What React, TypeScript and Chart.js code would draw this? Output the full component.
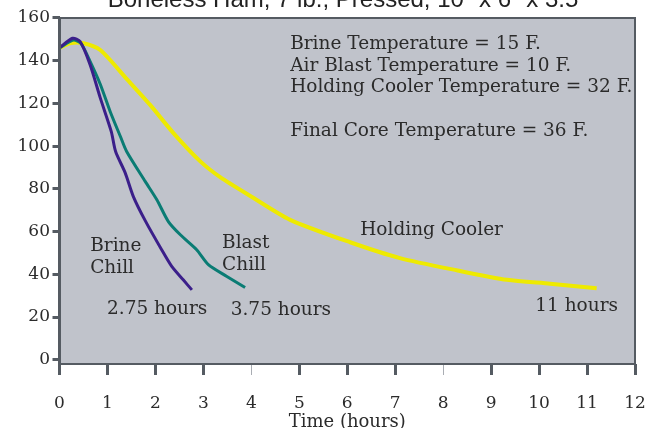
import React, { useEffect, useRef } from "react";
import { Chart, registerables } from "chart.js";

Chart.register(...registerables);

// ---------- data ----------
const TITLE = 'Boneless Ham, 7 lb., Pressed, 10" x 6" x 3.5"';
const X_TITLE = "Time (hours)";

const SERIES_NAMES = ["Brine Chill", "Blast Chill", "Holding Cooler"];

const brineTimes = [0, 0.27, 0.43, 0.64, 0.85, 1.08, 1.17, 1.37, 1.54, 1.79, 2.13, 2.34, 2.58, 2.76];
const brineTemps = [146, 150.5, 149, 138, 122.6, 106.8, 97.5, 87.5, 76.4, 65, 51.5, 43.7, 37.4, 32.7];

const blastTimes = [0, 0.29, 0.45, 0.64, 0.85, 1.06, 1.27, 1.4, 1.79, 2.03, 2.27, 2.52, 2.86, 3.11, 3.49, 3.87];
const blastTemps = [146, 149.7, 148, 139.6, 129, 116, 104.5, 97.5, 83.4, 74.9, 64.7, 58.5, 51.5, 44.4, 39, 33.8];

const holdTimes = [0, 0.22, 0.5, 0.85, 1.4, 1.89, 2.38, 2.93, 3.35, 3.97, 4.81, 6.06, 7.1, 8.3, 9.33, 10.23, 11.2];
const holdTemps = [146, 148.2, 148.2, 145, 131.5, 119.3, 106, 93, 85.5, 76.8, 65.5, 55, 47.6, 41.8, 37.4, 35.6, 33.5];

const xTickValues = [0, 1, 2, 3, 4, 5, 6, 7, 8, 9, 10, 11, 12];
const yTickValues = [0, 20, 40, 60, 80, 100, 120, 140, 160];

const noteTexts = [
  "Brine Temperature = 15 F.",
  "Air Blast Temperature = 10 F.",
  "Holding Cooler Temperature = 32 F.",
  "Final Core Temperature = 36 F.",
  "Holding Cooler",
  "Brine",
  "Chill",
  "Blast",
  "Chill",
  "2.75 hours",
  "3.75 hours",
  "11 hours",
];
const noteTimes = [4.81, 4.81, 4.81, 4.81, 6.27, 0.64, 0.64, 3.39, 3.39, 0.99, 3.57, 9.92];
const noteTemps = [147.8, 137.5, 127.7, 107.1, 60.5, 53, 42.9, 54.6, 44.4, 23.7, 23.1, 24.9];

// ---------- styles ----------
const PLOT_BG = "#c0c3cb";
const FRAME = "#555b62";
const TEXT = "#2b2b2b";
const SERIF = "'DejaVu Serif', serif";
const COLORS = ["#3b1f8a", "#0a7c74", "#eeea00"];
const WIDTHS = [3, 3, 4];

const CANVAS_W = 657;
const CANVAS_H = 460;
const OFFSET_TOP = 14;

const zip = (xs: number[], ys: number[]) => xs.map((x, i) => ({ x, y: ys[i] }));

const framePlugin = {
  id: "plotFrame",
  beforeDatasetsDraw(chart: any) {
    const { ctx, chartArea } = chart;
    const { left, top, right, bottom } = chartArea;
    ctx.save();
    ctx.fillStyle = PLOT_BG;
    ctx.fillRect(left, top, right - left, bottom - top);
    ctx.restore();
  },
  afterDatasetsDraw(chart: any) {
    const { ctx, chartArea, scales } = chart;
    const { left, top, right, bottom } = chartArea;
    ctx.save();
    ctx.strokeStyle = FRAME;
    ctx.lineWidth = 2;
    ctx.beginPath();
    ctx.moveTo(left, top);
    ctx.lineTo(right, top);
    ctx.lineTo(right, bottom);
    ctx.lineTo(left, bottom);
    ctx.stroke();
    ctx.lineWidth = 3;
    ctx.beginPath();
    ctx.moveTo(left, top - 1);
    ctx.lineTo(left, bottom + 1);
    ctx.stroke();

    ctx.fillStyle = TEXT;
    ctx.font = `18.5px ${SERIF}`;
    ctx.textAlign = "left";
    ctx.textBaseline = "middle";
    noteTexts.forEach((t, i) => {
      ctx.fillText(t, scales.x.getPixelForValue(noteTimes[i]), scales.y.getPixelForValue(noteTemps[i]));
    });
    ctx.restore();
  },
};

export default function App() {
  const ref = useRef<HTMLCanvasElement | null>(null);

  useEffect(() => {
    if (!ref.current) return;
    const seriesX = [brineTimes, blastTimes, holdTimes];
    const seriesY = [brineTemps, blastTemps, holdTemps];
    const chart = new Chart(ref.current, {
      type: "line",
      data: {
        datasets: SERIES_NAMES.map((name, i) => ({
          label: name,
          data: zip(seriesX[i], seriesY[i]),
          borderColor: COLORS[i],
          backgroundColor: COLORS[i],
          borderWidth: WIDTHS[i],
          pointRadius: 0,
          tension: 0.25,
          fill: false,
        })),
      },
      options: {
        responsive: false,
        animation: false,
        events: [],
        layout: { padding: { left: 0, right: 22, top: 0, bottom: 0 } },
        plugins: {
          legend: { display: false },
          tooltip: { enabled: false },
          title: {
            display: true,
            text: TITLE,
            fullSize: false,
            color: "#222",
            font: { family: "'Liberation Sans', Arial, sans-serif", size: 24, weight: "normal", lineHeight: 1.2 },
            padding: { top: 0, bottom: 3.2 },
          },
        },
        scales: {
          x: {
            type: "linear",
            min: 0,
            max: 12,
            afterFit: (s: any) => {
              s.height = CANVAS_H - 378;
              s.paddingLeft = 0;
              s.paddingRight = 0;
            },
            afterBuildTicks: (s: any) => {
              s.ticks = xTickValues.map((v) => ({ value: v }));
            },
            border: { display: false },
            grid: {
              drawOnChartArea: false,
              drawTicks: true,
              tickLength: 11,
              tickWidth: (c: any) => (c.tick && (c.tick.value === 4 || c.tick.value === 8) ? 1 : 3),
              tickColor: (c: any) => (c.tick && (c.tick.value === 4 || c.tick.value === 8) ? "#a9adb3" : FRAME),
            },
            ticks: {
              color: TEXT,
              padding: 18.5,
              maxRotation: 0,
              font: { family: SERIF, size: 17 },
            },
            title: {
              display: true,
              text: X_TITLE,
              color: TEXT,
              font: { family: SERIF, size: 18 },
              padding: { top: 0, bottom: 12.8 },
            },
          },
          y: {
            type: "linear",
            min: -2,
            max: 160,
            afterFit: (s: any) => {
              s.width = 59.5;
            },
            afterBuildTicks: (s: any) => {
              s.ticks = yTickValues.map((v) => ({ value: v }));
            },
            border: { display: false },
            grid: {
              drawOnChartArea: false,
              drawTicks: true,
              tickLength: 7,
              tickWidth: 3,
              tickColor: FRAME,
            },
            ticks: {
              color: TEXT,
              padding: 2.5,
              font: { family: SERIF, size: 17 },
            },
          },
        },
      },
      plugins: [framePlugin],
    });
    return () => chart.destroy();
  }, []);

  return (
    <div
      style={{
        position: "fixed",
        left: 0,
        top: 0,
        width: CANVAS_W,
        height: 428,
        overflow: "hidden",
        background: "#fff",
      }}
    >
      <canvas
        ref={ref}
        width={CANVAS_W}
        height={CANVAS_H}
        style={{ position: "absolute", left: 0, top: -OFFSET_TOP, width: CANVAS_W, height: CANVAS_H }}
      />
    </div>
  );
}
